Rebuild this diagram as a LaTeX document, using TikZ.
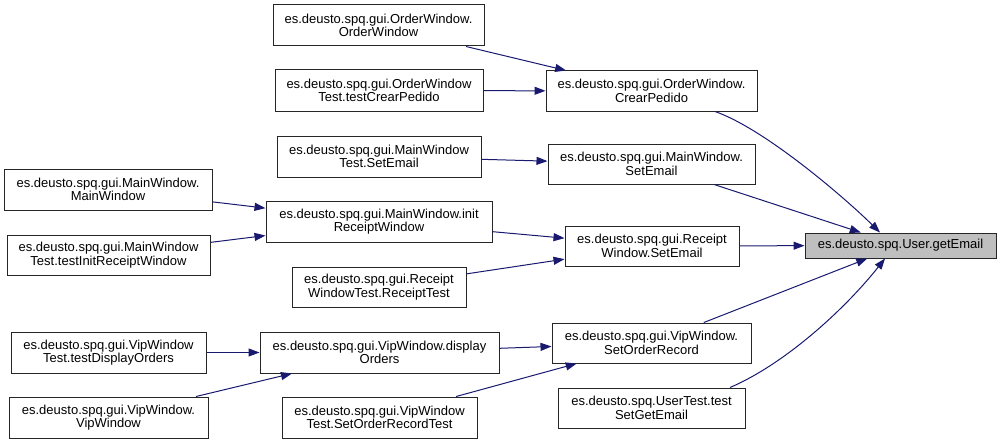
\documentclass[tikz,border=0pt]{standalone}
\usepackage{fontspec}
\setmainfont{Liberation Sans}
\usetikzlibrary{positioning}
\usetikzlibrary{arrows.meta}

\definecolor{edgeblue}{HTML}{191970}
\definecolor{rootgrey}{HTML}{BFBFBF}

\begin{document}
\begin{tikzpicture}[
        x=1pt, y=-1pt,
        >={Triangle[length=11pt,width=8pt]},
        every path/.style={line width=1pt},
        func/.style={
            rectangle,
            draw=black!85,
            fill=white,
            align=center,
            inner sep=0pt,
            minimum height=41pt,
            font=\fontsize{13}{13.5}\selectfont,
        },
        root/.style={
            func,
            fill=rootgrey,
            minimum height=25pt,
        },
        call/.style={->, draw=edgeblue},
    ]

    \useasboundingbox (0,0) rectangle (1001,444);

    \node (getemail) at (900.5,245.5) [root, minimum width=191pt] {es.deusto.spq.User.getEmail};

    \node (crear) at (651.5,91) [func, minimum width=211pt, minimum height=40pt] {es.deusto.spq.gui.OrderWindow.\\CrearPedido};
    \node (mwsetemail) at (651.5,164) [func, minimum width=207pt, minimum height=40pt] {es.deusto.spq.gui.MainWindow.\\SetEmail};
    \node (rwsetemail) at (652,246) [func, minimum width=174pt, minimum height=40pt] {es.deusto.spq.gui.Receipt\\Window.SetEmail};
    \node (viporder) at (651.5,343) [func, minimum width=199pt, minimum height=40pt] {es.deusto.spq.gui.VipWindow.\\SetOrderRecord};
    \node (usertest) at (651.5,408) [func, minimum width=187pt, minimum height=40pt] {es.deusto.spq.UserTest.test\\SetGetEmail};

    \node (owindow) at (378.5,25.5) [func, minimum width=211pt] {es.deusto.spq.gui.OrderWindow.\\OrderWindow};
    \node (owtest) at (379,90.5) [func, minimum width=208pt] {es.deusto.spq.gui.OrderWindow\\Test.testCrearPedido};
    \node (mwtest) at (379,156.5) [func, minimum width=204pt] {es.deusto.spq.gui.MainWindow\\Test.SetEmail};
    \node (initrw) at (379,221.5) [func, minimum width=226pt] {es.deusto.spq.gui.MainWindow.init\\ReceiptWindow};
    \node (rwtest) at (379,287) [func, minimum width=174pt, minimum height=40pt] {es.deusto.spq.gui.Receipt\\WindowTest.ReceiptTest};
    \node (vipdisplay) at (379.5,352.5) [func, minimum width=239pt] {es.deusto.spq.gui.VipWindow.display\\Orders};
    \node (viptestorder) at (379.5,417.5) [func, minimum width=195pt] {es.deusto.spq.gui.VipWindow\\Test.SetOrderRecordTest};

    \node (mwindow) at (108,189.5) [func, minimum width=208pt] {es.deusto.spq.gui.MainWindow.\\MainWindow};
    \node (mwtestinit) at (108.5,255) [func, minimum width=203pt, minimum height=40pt] {es.deusto.spq.gui.MainWindow\\Test.testInitReceiptWindow};
    \node (viptestdisplay) at (108.5,352.5) [func, minimum width=195pt] {es.deusto.spq.gui.VipWindow\\Test.testDisplayOrders};
    \node (vipwindow) at (108.5,417.5) [func, minimum width=199pt] {es.deusto.spq.gui.VipWindow.\\VipWindow};

    \draw [call] ([xshift=63.5pt]crear.south) .. controls (765,129) and (845,198) .. ([xshift=-20.5pt]getemail.north);
    \draw [call] (mwsetemail) -- (getemail);
    \draw [call] (rwsetemail) -- (getemail);
    \draw [call] (viporder) -- (getemail);
    \draw [call] ([xshift=78.5pt]usertest.north) .. controls (785,364) and (845,309) .. ([xshift=-15.5pt]getemail.south);

    \draw [call] (owindow) -- (crear);
    \draw [call] (owtest) -- (crear);
    \draw [call] (mwtest) -- (mwsetemail);
    \draw [call] (initrw) -- (rwsetemail);
    \draw [call] (rwtest) -- (rwsetemail);
    \draw [call] (vipdisplay) -- (viporder);
    \draw [call] (viptestorder) -- (viporder);

    \draw [call] (mwindow) -- (initrw);
    \draw [call] (mwtestinit) -- (initrw);
    \draw [call] (viptestdisplay) -- (vipdisplay);
    \draw [call] (vipwindow) -- (vipdisplay);

\end{tikzpicture}
\end{document}
